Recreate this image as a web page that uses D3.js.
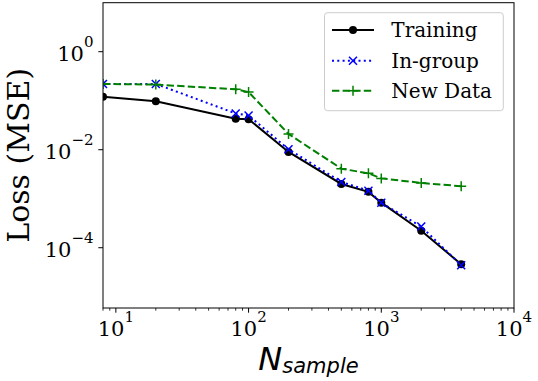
<!DOCTYPE html>
<html><head><meta charset="utf-8">
<script src="https://cdn.jsdelivr.net/npm/d3@7"></script>
<style>body{margin:0;background:#fff}svg{display:block}</style>
</head><body>
<svg id="c" width="538" height="381"></svg>
<script>
const nSample = [8, 20, 80, 100, 200, 500, 800, 1000, 2000, 4000];
const training = [0.121, 0.097, 0.043, 0.042, 0.0090, 0.0020, 0.00138, 0.00083, 0.000222, 0.000046];
const inGroup = [0.22, 0.22, 0.055, 0.050, 0.0102, 0.0022, 0.00146, 0.00083, 0.00027, 0.000044];
const newData = [0.22, 0.213, 0.171, 0.15, 0.021, 0.0041, 0.0033, 0.0026, 0.0021, 0.0018];
const seriesNames = ["Training", "In-group", "New Data"];
const xTickExps = ["1", "2", "3", "4"];
const yTickExps = ["0", "\u22122", "\u22124"];

const svg = d3.select("#c");
const L = 103, R = 514, T = 2.7, B = 308;
const x = d3.scaleLog().domain([8, 1e4]).range([L, R]);
const y = d3.scaleLog().domain([Math.pow(10, -5.23), 10]).range([B, T]);

svg.append("defs").append("clipPath").attr("id", "clip")
  .append("rect").attr("x", L).attr("y", T).attr("width", R - L).attr("height", B - T);

// x ticks
const xMajors = xTickExps.map(e => Math.pow(10, +e));
const xMinors = [];
for (let d = 1; d <= 1000; d *= 10) for (let m = 2; m <= 9; m++) { const v = m * d; if (v >= 8 && v <= 1e4) xMinors.push(v); }
const gx = svg.append("g");
gx.selectAll("line.mn").data(xMinors).join("line").attr("class","mn")
  .attr("x1", d => x(d)).attr("x2", d => x(d)).attr("y1", B).attr("y2", B + 2.7)
  .attr("stroke", "#000").attr("stroke-width", 0.8);
gx.selectAll("line.mj").data(xMajors).join("line").attr("class","mj")
  .attr("x1", d => x(d)).attr("x2", d => x(d)).attr("y1", B).attr("y2", B + 4.7)
  .attr("stroke", "#000").attr("stroke-width", 1);
xTickExps.forEach((e, i) => {
  const t = svg.append("text").attr("x", x(xMajors[i])).attr("y", B + 27.7)
    .attr("text-anchor", "middle").attr("font-family", "DejaVu Serif").attr("font-size", 21).attr("fill", "#000");
  t.append("tspan").text("10");
  t.append("tspan").attr("dy", -14).attr("font-size", 15).text(e);
});

// y ticks
const yMajors = [1, 1e-2, 1e-4];
svg.selectAll("line.ymj").data(yMajors).join("line").attr("class","ymj")
  .attr("x1", L - 4.7).attr("x2", L).attr("y1", d => y(d)).attr("y2", d => y(d))
  .attr("stroke", "#000").attr("stroke-width", 1);
yTickExps.forEach((e, i) => {
  const t = svg.append("text").attr("x", 93.5).attr("y", y(yMajors[i]) + 9)
    .attr("text-anchor", "end").attr("font-family", "DejaVu Serif").attr("font-size", 21).attr("fill", "#000");
  t.append("tspan").text("10");
  t.append("tspan").attr("dy", -14).attr("font-size", 15).text(e);
});

// series
const series = [
  {name: seriesNames[0], vals: training, color: "#000000", dash: null, marker: "o"},
  {name: seriesNames[1], vals: inGroup, color: "#0000ff", dash: "2,3.3", marker: "x"},
  {name: seriesNames[2], vals: newData, color: "#008000", dash: "7.4,3.2", marker: "+"}
];
const line = d3.line().x(d => x(d[0])).y(d => y(d[1]));
function drawMarker(g, m, cx, cy, color) {
  if (m === "o") g.append("circle").attr("cx", cx).attr("cy", cy).attr("r", 4).attr("fill", color);
  else if (m === "x") {
    const s = 4;
    g.append("path").attr("d", `M${cx-s},${cy-s}L${cx+s},${cy+s}M${cx-s},${cy+s}L${cx+s},${cy-s}`)
      .attr("stroke", color).attr("stroke-width", 1.5).attr("fill", "none");
  } else {
    const s = 5;
    g.append("path").attr("d", `M${cx-s},${cy}L${cx+s},${cy}M${cx},${cy-s}L${cx},${cy+s}`)
      .attr("stroke", color).attr("stroke-width", 1.5).attr("fill", "none");
  }
}
const plot = svg.append("g").attr("clip-path", "url(#clip)");
series.forEach(s => {
  const pts = nSample.map((n, i) => [n, s.vals[i]]);
  plot.append("path").attr("d", line(pts)).attr("fill", "none").attr("stroke", s.color)
    .attr("stroke-width", 2).attr("stroke-dasharray", s.dash);
  pts.forEach(p => drawMarker(plot, s.marker, x(p[0]), y(p[1]), s.color));
});

// spines
svg.append("rect").attr("x", L).attr("y", T).attr("width", R - L).attr("height", B - T)
  .attr("fill", "none").attr("stroke", "#000").attr("stroke-width", 1);

// legend
const lg = svg.append("g");
lg.append("rect").attr("x", 324.5).attr("y", 12.7).attr("width", 178.8).attr("height", 98).attr("rx", 3)
  .attr("fill", "#fff").attr("fill-opacity", 0.8).attr("stroke", "#cccccc").attr("stroke-width", 1);
const rows = [30, 60.7, 90.7];
series.forEach((s, i) => {
  const cy = rows[i];
  lg.append("line").attr("x1", 332).attr("x2", 374).attr("y1", cy).attr("y2", cy)
    .attr("stroke", s.color).attr("stroke-width", 2).attr("stroke-dasharray", s.dash);
  drawMarker(lg, s.marker, 353, cy, s.color);
  lg.append("text").attr("x", 391.3).attr("y", cy + 7.3).attr("font-family", "DejaVu Serif")
    .attr("font-size", 20).attr("fill", "#000").text(s.name);
});

// axis labels
svg.append("text").attr("transform", `translate(28.5,${(T + B) / 2}) rotate(-90)`)
  .attr("text-anchor", "middle").attr("font-family", "DejaVu Serif").attr("font-size", 30)
  .attr("fill", "#000").text("Loss (MSE)");
const xl = svg.append("text").attr("x", (L + R) / 2).attr("y", 370).attr("text-anchor", "middle")
  .attr("font-family", "DejaVu Sans").attr("font-style", "italic").attr("fill", "#000");
xl.append("tspan").attr("font-size", 32).text("N");
xl.append("tspan").attr("font-size", 21).attr("dy", 3).text("sample");
</script>
</body></html>
